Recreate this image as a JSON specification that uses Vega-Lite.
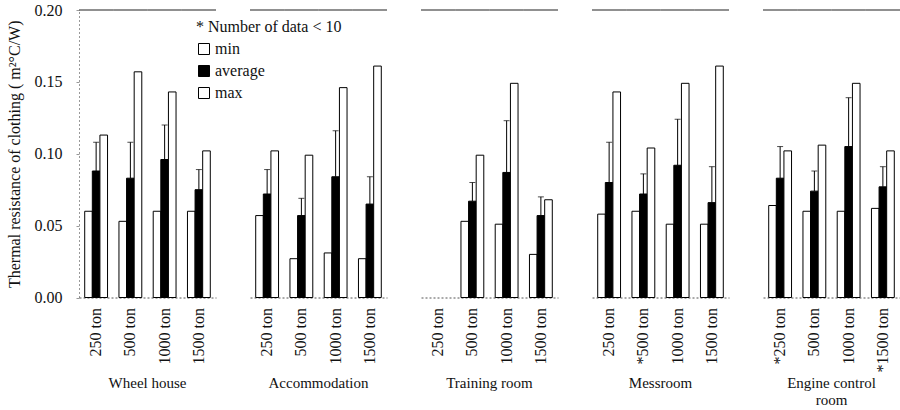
{
  "$schema": "https://vega.github.io/schema/vega-lite/v6.json",
  "padding": {"left": 5, "top": 2, "right": 0, "bottom": 0},
  "background": "white",
  "bounds": "flush",
  "config": {
    "font": "Liberation Serif",
    "view": {"stroke": null},
    "axis": {"labelFont": "Liberation Serif", "titleFont": "Liberation Serif", "labelColor": "#111", "titleColor": "#111", "labelFontSize": 16, "titleFontSize": 16, "titleFontWeight": "normal"},
    "legend": {"labelFont": "Liberation Serif", "titleFont": "Liberation Serif", "labelColor": "#111", "titleColor": "#111"}
  },
  "data": {"values": [
    {"room": "Wheel house", "ton": "250 ton", "stat": "min", "value": 0.060},
    {"room": "Wheel house", "ton": "250 ton", "stat": "average", "value": 0.088, "upper": 0.108},
    {"room": "Wheel house", "ton": "250 ton", "stat": "max", "value": 0.113},
    {"room": "Wheel house", "ton": "500 ton", "stat": "min", "value": 0.053},
    {"room": "Wheel house", "ton": "500 ton", "stat": "average", "value": 0.083, "upper": 0.108},
    {"room": "Wheel house", "ton": "500 ton", "stat": "max", "value": 0.157},
    {"room": "Wheel house", "ton": "1000 ton", "stat": "min", "value": 0.060},
    {"room": "Wheel house", "ton": "1000 ton", "stat": "average", "value": 0.096, "upper": 0.120},
    {"room": "Wheel house", "ton": "1000 ton", "stat": "max", "value": 0.143},
    {"room": "Wheel house", "ton": "1500 ton", "stat": "min", "value": 0.060},
    {"room": "Wheel house", "ton": "1500 ton", "stat": "average", "value": 0.075, "upper": 0.089},
    {"room": "Wheel house", "ton": "1500 ton", "stat": "max", "value": 0.102},
    {"room": "Accommodation", "ton": "250 ton", "stat": "min", "value": 0.057},
    {"room": "Accommodation", "ton": "250 ton", "stat": "average", "value": 0.072, "upper": 0.089},
    {"room": "Accommodation", "ton": "250 ton", "stat": "max", "value": 0.102},
    {"room": "Accommodation", "ton": "500 ton", "stat": "min", "value": 0.027},
    {"room": "Accommodation", "ton": "500 ton", "stat": "average", "value": 0.057, "upper": 0.069},
    {"room": "Accommodation", "ton": "500 ton", "stat": "max", "value": 0.099},
    {"room": "Accommodation", "ton": "1000 ton", "stat": "min", "value": 0.031},
    {"room": "Accommodation", "ton": "1000 ton", "stat": "average", "value": 0.084, "upper": 0.116},
    {"room": "Accommodation", "ton": "1000 ton", "stat": "max", "value": 0.146},
    {"room": "Accommodation", "ton": "1500 ton", "stat": "min", "value": 0.027},
    {"room": "Accommodation", "ton": "1500 ton", "stat": "average", "value": 0.065, "upper": 0.084},
    {"room": "Accommodation", "ton": "1500 ton", "stat": "max", "value": 0.161},
    {"room": "Training room", "ton": "250 ton"},
    {"room": "Training room", "ton": "500 ton", "stat": "min", "value": 0.053},
    {"room": "Training room", "ton": "500 ton", "stat": "average", "value": 0.067, "upper": 0.080},
    {"room": "Training room", "ton": "500 ton", "stat": "max", "value": 0.099},
    {"room": "Training room", "ton": "1000 ton", "stat": "min", "value": 0.051},
    {"room": "Training room", "ton": "1000 ton", "stat": "average", "value": 0.087, "upper": 0.123},
    {"room": "Training room", "ton": "1000 ton", "stat": "max", "value": 0.149},
    {"room": "Training room", "ton": "1500 ton", "stat": "min", "value": 0.030},
    {"room": "Training room", "ton": "1500 ton", "stat": "average", "value": 0.057, "upper": 0.070},
    {"room": "Training room", "ton": "1500 ton", "stat": "max", "value": 0.068},
    {"room": "Messroom", "ton": "250 ton", "stat": "min", "value": 0.058},
    {"room": "Messroom", "ton": "250 ton", "stat": "average", "value": 0.080, "upper": 0.108},
    {"room": "Messroom", "ton": "250 ton", "stat": "max", "value": 0.143},
    {"room": "Messroom", "ton": "*500 ton", "stat": "min", "value": 0.060},
    {"room": "Messroom", "ton": "*500 ton", "stat": "average", "value": 0.072, "upper": 0.086},
    {"room": "Messroom", "ton": "*500 ton", "stat": "max", "value": 0.104},
    {"room": "Messroom", "ton": "1000 ton", "stat": "min", "value": 0.051},
    {"room": "Messroom", "ton": "1000 ton", "stat": "average", "value": 0.092, "upper": 0.124},
    {"room": "Messroom", "ton": "1000 ton", "stat": "max", "value": 0.149},
    {"room": "Messroom", "ton": "1500 ton", "stat": "min", "value": 0.051},
    {"room": "Messroom", "ton": "1500 ton", "stat": "average", "value": 0.066, "upper": 0.091},
    {"room": "Messroom", "ton": "1500 ton", "stat": "max", "value": 0.161},
    {"room": "Engine control room", "ton": "*250 ton", "stat": "min", "value": 0.064},
    {"room": "Engine control room", "ton": "*250 ton", "stat": "average", "value": 0.083, "upper": 0.105},
    {"room": "Engine control room", "ton": "*250 ton", "stat": "max", "value": 0.102},
    {"room": "Engine control room", "ton": "500 ton", "stat": "min", "value": 0.060},
    {"room": "Engine control room", "ton": "500 ton", "stat": "average", "value": 0.074, "upper": 0.088},
    {"room": "Engine control room", "ton": "500 ton", "stat": "max", "value": 0.106},
    {"room": "Engine control room", "ton": "1000 ton", "stat": "min", "value": 0.060},
    {"room": "Engine control room", "ton": "1000 ton", "stat": "average", "value": 0.105, "upper": 0.139},
    {"room": "Engine control room", "ton": "1000 ton", "stat": "max", "value": 0.149},
    {"room": "Engine control room", "ton": "*1500 ton", "stat": "min", "value": 0.062},
    {"room": "Engine control room", "ton": "*1500 ton", "stat": "average", "value": 0.077, "upper": 0.091},
    {"room": "Engine control room", "ton": "*1500 ton", "stat": "max", "value": 0.102}
  ]},
  "spacing": 34,
  "facet": {
    "column": {
      "field": "room", "type": "nominal",
      "sort": ["Wheel house", "Accommodation", "Training room", "Messroom", "Engine control room"],
      "header": {
        "title": null, "labelOrient": "bottom", "labelFont": "Liberation Serif", "labelFontSize": 15,
        "labelColor": "#111", "labelPadding": 78, "labelLineHeight": 17,
        "labelExpr": "datum.value == 'Engine control room' ? ['Engine control', 'room'] : datum.value"
      }
    }
  },
  "resolve": {"scale": {"x": "independent", "xOffset": "independent"}},
  "spec": {
    "width": 137,
    "height": 287.5,
    "layer": [
      {
        "transform": [{"filter": "datum.stat !== 'min' && datum.stat !== 'max'"}],
        "mark": {"type": "rule", "color": "#222", "strokeWidth": 1.2},
        "encoding": {
          "x": {"field": "ton", "type": "nominal", "bandPosition": 0,
                "sort": ["250 ton", "*250 ton", "500 ton", "*500 ton", "1000 ton", "1500 ton", "*1500 ton"],
                "scale": {"paddingInner": 0, "paddingOuter": 0},
                "axis": {"title": null, "labelAngle": -90, "ticks": false, "labelPadding": 10, "domainColor": "#555", "domainDash": [2, 2], "labelLimit": 200}},
          "x2": {"field": "ton", "bandPosition": 1},
          "y": {"datum": 0.2, "type": "quantitative", "title": "Thermal resistance of clothing ( m²°C/W)",
                "scale": {"domain": [0, 0.2]},
                "axis": {"values": [0, 0.05, 0.1, 0.15, 0.2], "format": ".2f", "grid": false, "tickSize": 3, "tickColor": "#999", "domainColor": "#999", "domainDash": [2, 2], "labelPadding": 14, "titlePadding": 12}}
        }
      },
      {
        "mark": {"type": "bar", "stroke": "black", "strokeWidth": 1},
        "encoding": {
          "x": {"field": "ton", "type": "nominal",
                "sort": ["250 ton", "*250 ton", "500 ton", "*500 ton", "1000 ton", "1500 ton", "*1500 ton"],
                "scale": {"paddingInner": 0, "paddingOuter": 0},
                "axis": {"title": null, "labelAngle": -90, "ticks": false, "labelPadding": 10, "domainColor": "#555", "domainDash": [2, 2], "labelLimit": 200}},
          "xOffset": {"field": "stat", "type": "nominal", "sort": ["min", "average", "max"],
                      "scale": {"domain": ["min", "average", "max"], "paddingInner": 0, "paddingOuter": 0.75}},
          "y": {"field": "value", "type": "quantitative", "title": "Thermal resistance of clothing ( m²°C/W)",
                "scale": {"domain": [0, 0.2]},
                "axis": {"values": [0, 0.05, 0.1, 0.15, 0.2], "format": ".2f", "grid": false, "tickSize": 3, "tickColor": "#999", "domainColor": "#999", "domainDash": [2, 2], "labelPadding": 14, "titlePadding": 12}},
          "color": {"field": "stat", "type": "nominal",
                    "scale": {"domain": ["min", "average", "max"], "range": ["white", "black", "white"]},
                    "legend": {"title": "* Number of data < 10", "orient": "none", "legendX": 117, "legendY": 9,
                               "symbolType": "square", "symbolSize": 121, "symbolStrokeColor": "black", "symbolStrokeWidth": 1,
                               "labelFontSize": 16, "titleFontSize": 16, "titleFontWeight": "normal", "rowPadding": 6, "titlePadding": 6, "labelOffset": 3}}
        }
      },
      {
        "transform": [{"filter": "datum.stat == 'average'"}],
        "mark": {"type": "rule", "color": "black", "strokeWidth": 1},
        "encoding": {
          "x": {"field": "ton", "type": "nominal",
                "sort": ["250 ton", "*250 ton", "500 ton", "*500 ton", "1000 ton", "1500 ton", "*1500 ton"],
                "scale": {"paddingInner": 0, "paddingOuter": 0}},
          "xOffset": {"field": "stat", "type": "nominal", "sort": ["min", "average", "max"],
                      "scale": {"domain": ["min", "average", "max"], "paddingInner": 0, "paddingOuter": 0.75}},
          "y": {"field": "value", "type": "quantitative", "title": "Thermal resistance of clothing ( m²°C/W)"},
          "y2": {"field": "upper"}
        }
      },
      {
        "transform": [{"filter": "datum.stat == 'average'"}],
        "mark": {"type": "tick", "color": "black", "thickness": 1, "size": 6},
        "encoding": {
          "x": {"field": "ton", "type": "nominal",
                "sort": ["250 ton", "*250 ton", "500 ton", "*500 ton", "1000 ton", "1500 ton", "*1500 ton"],
                "scale": {"paddingInner": 0, "paddingOuter": 0}},
          "xOffset": {"field": "stat", "type": "nominal", "sort": ["min", "average", "max"],
                      "scale": {"domain": ["min", "average", "max"], "paddingInner": 0, "paddingOuter": 0.75}},
          "y": {"field": "upper", "type": "quantitative", "title": "Thermal resistance of clothing ( m²°C/W)"}
        }
      }
    ]
  }
}
